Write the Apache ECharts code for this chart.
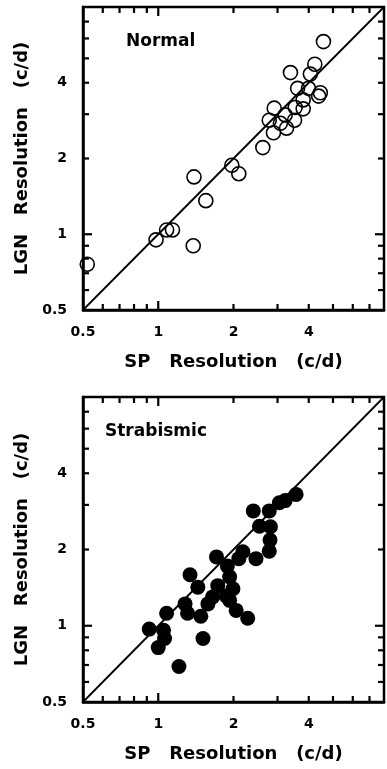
<!DOCTYPE html>
<html>
<head>
<meta charset="utf-8">
<script src="https://cdn.jsdelivr.net/npm/echarts@6/dist/echarts.min.js"></script>
<style>
  html, body { margin: 0; padding: 0; background: #fff; }
  #chart { width: 387px; height: 769px; }
</style>
</head>
<body>
<div id="chart"></div>
<script>
// values (c/d)
const normalSP  = [0.52, 0.98, 1.08, 1.14, 1.38, 1.39, 1.55, 1.97, 2.10, 2.62, 2.89, 2.78, 2.91, 3.08, 3.26, 3.22, 3.51, 3.53, 3.80, 3.80, 3.61, 3.99, 4.45, 4.38, 3.38, 4.06, 4.23, 4.58]
const normalLGN = [0.76, 0.95, 1.04, 1.04, 0.90, 1.69, 1.36, 1.88, 1.74, 2.21, 2.53, 2.84, 3.17, 2.76, 2.64, 2.98, 2.84, 3.19, 3.15, 3.42, 3.80, 3.80, 3.65, 3.54, 4.39, 4.33, 4.74, 5.83]

const strabSP  = [0.92, 1.08, 1.05, 1.06, 1.00, 1.21, 1.28, 1.31, 1.34, 1.44, 1.48, 1.51, 1.58, 1.65, 1.73, 1.71, 1.89, 1.93, 1.99, 1.93, 2.05, 2.28, 2.10, 2.18, 2.46, 2.40, 2.54, 2.78, 2.81, 2.80, 2.78, 3.05, 3.22, 3.56, 1.87]
const strabLGN = [0.97, 1.12, 0.96, 0.89, 0.82, 0.69, 1.22, 1.12, 1.59, 1.42, 1.09, 0.89, 1.22, 1.30, 1.44, 1.87, 1.72, 1.56, 1.40, 1.26, 1.15, 1.07, 1.84, 1.96, 1.84, 2.84, 2.47, 2.84, 2.46, 2.18, 1.97, 3.06, 3.12, 3.30, 1.31]

const tickValues = [0.6, 0.7, 0.8, 0.9, 1, 2, 3, 4, 5, 6, 7]
const axisMin = 0.5
const axisMax = 8
const identityLine = [0.5, 8]

const panelNames = ['Normal', 'Strabismic']
const xTitle = 'SP   Resolution   (c/d)'
const yTitle = 'LGN   Resolution   (c/d)'

const FONT = 'DejaVu Sans'
const zip = (a, b) => a.map((v, i) => [v, b[i]])

const labelStyle = {
  color: '#000', fontFamily: FONT, fontWeight: 'bold', fontSize: 14,
  formatter: v => (v >= axisMax ? '' : String(v)),
}
const nameStyle = { color: '#000', fontFamily: FONT, fontWeight: 'bold', fontSize: 18 }

function xAxisFor(i) {
  return {
    type: 'log', logBase: 2, min: axisMin, max: axisMax, gridIndex: i,
    axisLine: { lineStyle: { color: '#000', width: 2.5 } },
    axisTick: { show: false },
    splitLine: { show: false },
    axisLabel: Object.assign({ margin: 15 }, labelStyle),
    name: xTitle, nameLocation: 'middle', nameGap: 43, nameTextStyle: nameStyle,
  }
}
function yAxisFor(i) {
  return {
    type: 'log', logBase: 2, min: axisMin, max: axisMax, gridIndex: i,
    axisLine: { lineStyle: { color: '#000', width: 2.5 } },
    axisTick: { show: false },
    splitLine: { show: false },
    axisLabel: Object.assign({ margin: 16 }, labelStyle),
    name: yTitle, nameLocation: 'middle', nameGap: 37, nameTextStyle: nameStyle,
  }
}

// inward ticks on all four sides of a panel
function tickSeries(i) {
  return {
    type: 'custom', xAxisIndex: i, yAxisIndex: i, silent: true, clip: false, z: 5,
    data: tickValues.map(v => [v, v]),
    renderItem(params, api) {
      const v = api.value(0)
      const lo = api.coord([axisMin, axisMin])
      const hi = api.coord([axisMax, axisMax])
      const p = api.coord([v, v])
      const len = v === 1 ? 9 : 6
      const st = { stroke: '#000', lineWidth: 2.2 }
      return {
        type: 'group',
        children: [
          { type: 'line', shape: { x1: p[0], y1: lo[1], x2: p[0], y2: lo[1] - len }, style: st },
          { type: 'line', shape: { x1: p[0], y1: hi[1], x2: p[0], y2: hi[1] + len }, style: st },
          { type: 'line', shape: { x1: lo[0], y1: p[1], x2: lo[0] + len, y2: p[1] }, style: st },
          { type: 'line', shape: { x1: hi[0], y1: p[1], x2: hi[0] - len, y2: p[1] }, style: st },
        ],
      }
    },
  }
}

function diagSeries(i) {
  return {
    type: 'line', xAxisIndex: i, yAxisIndex: i, silent: true,
    data: identityLine.map(v => [v, v]),
    symbol: 'none',
    lineStyle: { color: '#000', width: 1.8 },
  }
}

const chart = echarts.init(document.getElementById('chart'))
chart.setOption({
  animation: false,
  backgroundColor: '#fff',
  grid: [
    { left: 83, top: 7, width: 302, height: 303, show: true, borderColor: '#000', borderWidth: 2.5 },
    { left: 83, top: 397, width: 302, height: 305, show: true, borderColor: '#000', borderWidth: 2.5 },
  ],
  xAxis: [xAxisFor(0), xAxisFor(1)],
  yAxis: [yAxisFor(0), yAxisFor(1)],
  graphic: [
    { type: 'text', left: 126, top: 33, style: { text: panelNames[0], fill: '#000', font: 'bold 17px "DejaVu Sans"' } },
    { type: 'text', left: 105, top: 423, style: { text: panelNames[1], fill: '#000', font: 'bold 17px "DejaVu Sans"' } },
  ],
  series: [
    tickSeries(0), tickSeries(1),
    diagSeries(0), diagSeries(1),
    {
      name: 'Normal', type: 'scatter', xAxisIndex: 0, yAxisIndex: 0,
      data: zip(normalSP, normalLGN),
      symbolSize: 14,
      itemStyle: { color: 'transparent', borderColor: '#000', borderWidth: 1.6, opacity: 1 },
    },
    {
      name: 'Strabismic', type: 'scatter', xAxisIndex: 1, yAxisIndex: 1,
      data: zip(strabSP, strabLGN),
      symbolSize: 15,
      itemStyle: { color: '#000', opacity: 1 },
    },
  ],
})
</script>
</body>
</html>
